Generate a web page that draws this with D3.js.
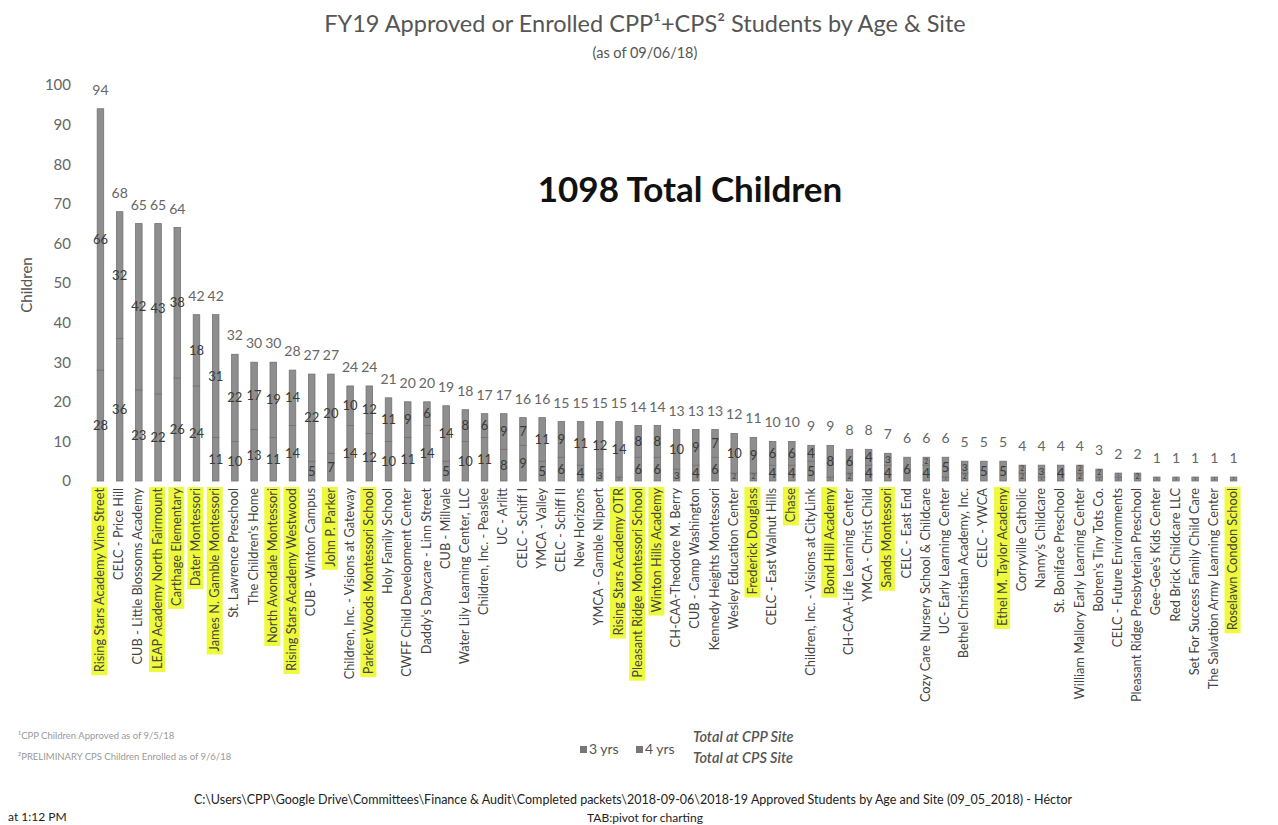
<!DOCTYPE html>
<html>
<head>
<meta charset="utf-8">
<script src="https://cdnjs.cloudflare.com/ajax/libs/d3/7.8.5/d3.min.js"></script>
<style>
  body { margin: 0; background: #fff; }
  svg { font-family: Lato, 'Open Sans', sans-serif; display: block; }
</style>
</head>
<body>
<svg></svg>
<script>
let width = 1278;
let height = 825;

const sites = [
  'Rising Stars Academy Vine Street', 'CELC - Price Hill', 'CUB - Little Blossoms Academy',
  'LEAP Academy North Fairmount', 'Carthage Elementary', 'Dater Montessori',
  'James N. Gamble Montessori', 'St. Lawrence Preschool', "The Children's Home",
  'North Avondale Montessori', 'Rising Stars Academy Westwood', 'CUB - Winton Campus',
  'John P. Parker', 'Children, Inc. - Visions at Gateway', 'Parker Woods Montessori School',
  'Holy Family School', 'CWFF Child Development Center', "Daddy's Daycare - Linn Street",
  'CUB - Millvale', 'Water Lily Learning Center, LLC', 'Children, Inc. - Peaslee',
  'UC - Arlitt', 'CELC - Schiff I', 'YMCA - Valley', 'CELC - Schiff II', 'New Horizons',
  'YMCA - Gamble Nippert', 'Rising Stars Academy OTR', 'Pleasant Ridge Montessori School',
  'Winton Hills Academy', 'CH-CAA-Theodore M. Berry', 'CUB - Camp Washington',
  'Kennedy Heights Montessori', 'Wesley Education Center', 'Frederick Douglass',
  'CELC - East Walnut Hills', 'Chase', 'Children, Inc. - Visions at CityLink',
  'Bond Hill Academy', 'CH-CAA-Life Learning Center', 'YMCA - Christ Child',
  'Sands Montessori', 'CELC - East End', 'Cozy Care Nursery School & Childcare',
  'UC- Early Learning Center', 'Bethel Christian Academy, Inc.', 'CELC - YWCA',
  'Ethel M. Taylor Academy', 'Corryville Catholic', "Nanny's Childcare",
  'St. Boniface Preschool', 'William Mallory Early Learning Center', "Bobren's Tiny Tots Co.",
  'CELC - Future Environments', 'Pleasant Ridge Presbyterian Preschool', "Gee-Gee's Kids Center",
  'Red Brick Childcare LLC', 'Set For Success Family Child Care',
  'The Salvation Army Learning Center', 'Roselawn Condon School'
];

// 3 yrs (bottom) and 4 yrs (top) per site
const threeYrs = [28, 36, 23, 22, 26, 24, 11, 10, 13, 11, 14, 5, 7, 14, 12, 10, 11, 14, 5, 10,
                  11, 8, 9, 5, 6, 4, 3, 1, 6, 6, 3, 4, 6, 2, 2, 4, 4, 5, 1, 2,
                  4, 4, 0, 4, 1, 2, 0, 0, 2, 1, 0, 2, 1, 1, 0, 0, 0, 0, 0, 0];
const fourYrs = [66, 32, 42, 43, 38, 18, 31, 22, 17, 19, 14, 22, 20, 10, 12, 11, 9, 6, 14, 8,
                 6, 9, 7, 11, 9, 11, 12, 14, 8, 8, 10, 9, 7, 10, 9, 6, 6, 4, 8, 6,
                 4, 3, 6, 2, 5, 3, 5, 5, 2, 3, 4, 2, 2, 1, 2, 1, 1, 1, 1, 1];

// CPS sites (highlighted in yellow)
const cpsSites = [
  'Rising Stars Academy Vine Street', 'LEAP Academy North Fairmount', 'Carthage Elementary',
  'Dater Montessori', 'James N. Gamble Montessori', 'North Avondale Montessori',
  'Rising Stars Academy Westwood', 'John P. Parker', 'Parker Woods Montessori School',
  'Rising Stars Academy OTR', 'Pleasant Ridge Montessori School', 'Winton Hills Academy',
  'Frederick Douglass', 'Chase', 'Bond Hill Academy', 'Sands Montessori',
  'Ethel M. Taylor Academy', 'Roselawn Condon School'
];

const yTicks = [0, 10, 20, 30, 40, 50, 60, 70, 80, 90, 100];
const ages = ['3 yrs', '4 yrs'];

let table = sites.map((s, i) => ({ site: s, '3 yrs': threeYrs[i], '4 yrs': fourYrs[i] }));
let grandTotal = d3.sum(threeYrs) + d3.sum(fourYrs);

let x = d3.scaleBand()
          .domain(sites)
          .range([84.5, 1249.5])
          .padding(0.66);

let y = d3.scaleLinear()
          .domain([0, 100])
          .range([481, 85]);

let svg = d3.select('svg')
            .attr('width', width)
            .attr('height', height);

// titles
svg.append('text')
    .attr('x', 645)
    .attr('y', 32)
    .attr('text-anchor', 'middle')
    .style('font-size', '23.5px')
    .style('fill', '#555')
    .text('FY19 Approved or Enrolled CPP¹+CPS² Students by Age & Site');

svg.append('text')
    .attr('x', 645)
    .attr('y', 58)
    .attr('text-anchor', 'middle')
    .style('font-size', '14.5px')
    .style('fill', '#555')
    .text('(as of 09/06/18)');

// y axis
let yAxis = svg.append('g')
               .attr('transform', 'translate(71,0)')
               .call(d3.axisLeft(y).tickValues(yTicks).tickSize(0).tickPadding(0));
yAxis.select('.domain').remove();
yAxis.selectAll('text')
     .style('font-family', 'Lato, sans-serif')
     .style('font-size', '15px')
     .style('fill', '#666');

svg.append('text')
    .attr('transform', 'translate(32,285) rotate(-90)')
    .attr('text-anchor', 'middle')
    .style('font-size', '15px')
    .style('fill', '#555')
    .text('Children');

// stacked bars
let stack = d3.stack().keys(ages)(table);

let layers = svg.append('g')
                .selectAll('g')
                .data(stack)
                .join('g');

layers.selectAll('rect')
      .data(d => d)
      .join('rect')
        .attr('x', d => x(d.data.site))
        .attr('width', x.bandwidth())
        .attr('y', d => y(d[1]))
        .attr('height', d => y(d[0]) - y(d[1]))
        .attr('fill', '#8e8e8e')
        .attr('stroke', '#727272')
        .attr('stroke-width', 0.8);

// segment labels, shrunk to fit thin segments
layers.selectAll('text')
      .data(d => d.filter(v => v[1] - v[0] > 0))
      .join('text')
        .attr('x', d => x(d.data.site) + x.bandwidth() / 2)
        .attr('y', d => (y(d[0]) + y(d[1])) / 2)
        .attr('dy', '0.35em')
        .attr('text-anchor', 'middle')
        .style('font-size', d => Math.min(13, (y(d[0]) - y(d[1])) * 0.85) + 'px')
        .style('fill', '#3a3a3a')
        .text(d => d[1] - d[0]);

// totals
svg.append('g')
   .selectAll('text')
   .data(table)
   .join('text')
     .attr('x', d => x(d.site) + x.bandwidth() / 2)
     .attr('y', d => y(d['3 yrs'] + d['4 yrs']) - 14)
     .attr('text-anchor', 'middle')
     .style('font-size', '14px')
     .style('fill', '#666')
     .text(d => d['3 yrs'] + d['4 yrs']);

// category labels
let labels = svg.append('g')
                .selectAll('g')
                .data(sites)
                .join('g')
                  .attr('transform', d => `translate(${x(d) + x.bandwidth() / 2 - 1},488) rotate(-90)`);

labels.append('text')
      .attr('text-anchor', 'end')
      .attr('dy', '0.36em')
      .style('font-size', '12.8px')
      .style('fill', '#444')
      .text(d => d);

labels.filter(d => cpsSites.includes(d))
      .insert('rect', 'text')
        .attr('fill', '#eefa3c')
        .each(function () {
          let len = this.parentNode.querySelector('text').getComputedTextLength();
          d3.select(this)
            .attr('x', -len - 3)
            .attr('y', -8)
            .attr('width', len + 4)
            .attr('height', 16);
        });

// big total
svg.append('text')
    .attr('x', 690)
    .attr('y', 202)
    .attr('text-anchor', 'middle')
    .style('font-size', '35px')
    .style('font-weight', 'bold')
    .style('fill', '#111')
    .text(`${grandTotal} Total Children`);

// footnotes
svg.append('text')
    .attr('x', 18)
    .attr('y', 739)
    .style('font-size', '9.5px')
    .style('fill', '#999')
    .text('¹CPP Children Approved as of 9/5/18');

svg.append('text')
    .attr('x', 18)
    .attr('y', 760)
    .style('font-size', '9.5px')
    .style('fill', '#999')
    .text('²PRELIMINARY CPS Children Enrolled as of 9/6/18');

// legend
let legend = svg.append('g')
                .selectAll('g')
                .data(ages)
                .join('g')
                  .attr('transform', (d, i) => `translate(${580 + i * 56},746)`);

legend.append('rect')
      .attr('width', 7)
      .attr('height', 7)
      .attr('fill', '#777');

legend.append('text')
      .attr('x', 9)
      .attr('y', 8)
      .style('font-size', '14px')
      .style('fill', '#555')
      .text(d => d);

svg.append('text')
    .attr('x', 693)
    .attr('y', 742)
    .style('font-size', '14.5px')
    .style('font-style', 'italic')
    .style('font-weight', '600')
    .style('fill', '#555')
    .text('Total at CPP Site');

svg.append('text')
    .attr('x', 693)
    .attr('y', 763)
    .style('font-size', '14.5px')
    .style('font-style', 'italic')
    .style('font-weight', '600')
    .style('fill', '#555')
    .text('Total at CPS Site');

// file path footer
svg.append('text')
    .attr('x', 633)
    .attr('y', 804)
    .attr('text-anchor', 'middle')
    .style('font-size', '12.5px')
    .style('fill', '#222')
    .text('C:\\Users\\CPP\\Google Drive\\Committees\\Finance & Audit\\Completed packets\\2018-09-06\\2018-19 Approved Students by Age and Site (09_05_2018) - Héctor');

svg.append('text')
    .attr('x', 645)
    .attr('y', 822)
    .attr('text-anchor', 'middle')
    .style('font-size', '12px')
    .style('fill', '#222')
    .text('TAB:pivot for charting');

svg.append('text')
    .attr('x', 8)
    .attr('y', 821)
    .style('font-size', '12px')
    .style('fill', '#222')
    .text('at 1:12 PM');
</script>
</body>
</html>
